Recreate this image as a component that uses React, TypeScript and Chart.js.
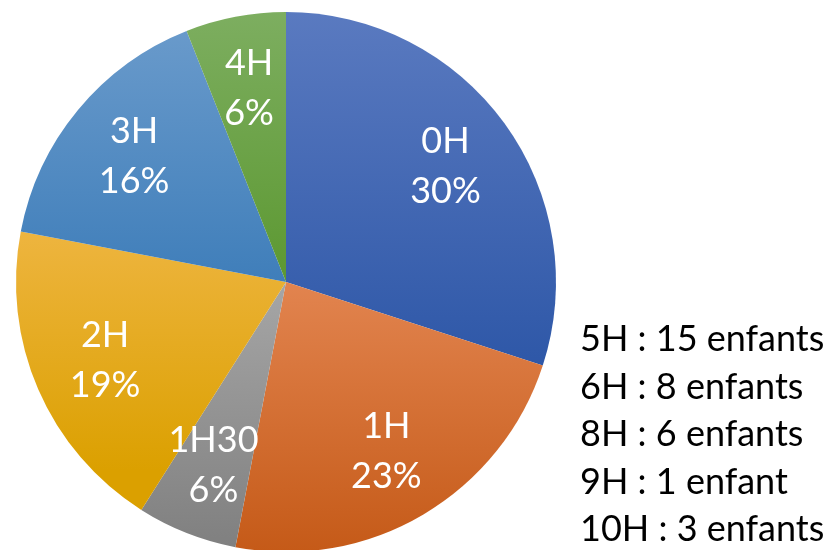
import React, { useEffect, useRef } from "react";
import { Chart, registerables } from "chart.js";

Chart.register(...registerables);

const categories = ["0H", "1H", "1H30", "2H", "3H", "4H"];
const percentages = [30, 23, 6, 19, 16, 6];
const sideNotes = [
  "5H : 15 enfants",
  "6H : 8 enfants",
  "8H : 6 enfants",
  "9H : 1 enfant",
  "10H : 3 enfants",
];

// gradient stops [position, color] per slice (light top → dark bottom)
const gradientStops: [number, string][][] = [
  [[0, "#5A7AC0"], [0.7, "#2B55A6"]],
  [[0.5, "#E2844F"], [1, "#C55A18"]],
  [[0.5, "#A6A6A6"], [1, "#7F7F7F"]],
  [[0.4, "#EEB540"], [0.85, "#DBA000"]],
  [[0, "#6C9CCC"], [0.5, "#3F7EBA"]],
  [[0, "#7DAE60"], [0.5, "#5C9831"]],
];

const FONT = "Lato, 'Open Sans', sans-serif";

const labelPlugin = {
  id: "sliceLabels",
  afterDatasetsDraw(chart: any) {
    const { ctx } = chart;
    const meta = chart.getDatasetMeta(0);
    ctx.save();
    ctx.fillStyle = "#ffffff";
    ctx.font = `36px ${FONT}`;
    ctx.textAlign = "center";
    ctx.textBaseline = "middle";
    meta.data.forEach((arc: any, i: number) => {
      const { x, y, startAngle, endAngle, outerRadius } = arc.getProps(
        ["x", "y", "startAngle", "endAngle", "outerRadius"],
        true
      );
      const mid = (startAngle + endAngle) / 2;
      const r = outerRadius * 0.73;
      const cx = x + Math.cos(mid) * r;
      const cy = y + Math.sin(mid) * r;
      ctx.fillText(categories[i], cx, cy - 25);
      ctx.fillText(percentages[i] + "%", cx, cy + 25);
    });
    ctx.restore();
  },
};

export default function App() {
  const canvasRef = useRef<HTMLCanvasElement | null>(null);

  useEffect(() => {
    document.body.style.margin = "0";
    const canvas = canvasRef.current!;
    const chart = new Chart(canvas, {
      type: "pie",
      data: {
        labels: categories,
        datasets: [
          {
            data: percentages,
            borderWidth: 0,
            backgroundColor: (c: any) => {
              const area = c.chart.chartArea;
              if (!area) return "#888";
              const g = c.chart.ctx.createLinearGradient(0, area.top, 0, area.bottom);
              gradientStops[c.dataIndex].forEach(([p, col]) => g.addColorStop(p, col));
              return g;
            },
          },
        ],
      },
      options: {
        animation: false,
        responsive: false,
        layout: { padding: { left: 16, right: 278, top: 12, bottom: 8 } },
        plugins: {
          legend: { display: false },
          tooltip: { enabled: false },
        },
      },
      plugins: [labelPlugin],
    });
    return () => chart.destroy();
  }, []);

  return (
    <div style={{ position: "relative", width: 834, height: 550, overflow: "hidden" }}>
      <canvas ref={canvasRef} width={834} height={560} style={{ position: "absolute", left: 0, top: 0 }} />
      <div
        style={{
          position: "absolute",
          left: 580,
          top: 314,
          fontFamily: FONT,
          fontSize: 36,
          lineHeight: "47.5px",
          color: "#000",
          whiteSpace: "nowrap",
        }}
      >
        {sideNotes.map((t) => (
          <div key={t}>{t}</div>
        ))}
      </div>
    </div>
  );
}
